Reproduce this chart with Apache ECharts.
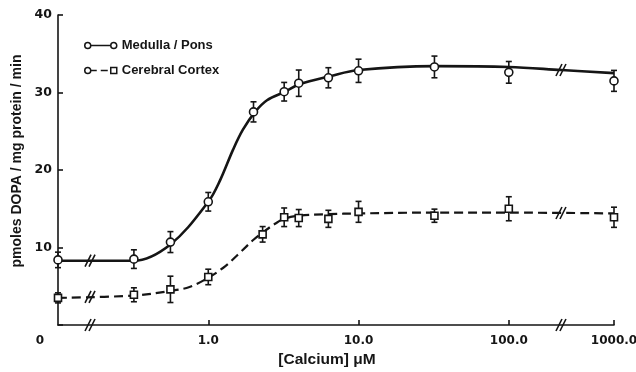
<!DOCTYPE html>
<html>
<head>
<meta charset="utf-8">
<script src="https://cdn.jsdelivr.net/npm/echarts@6/dist/echarts.min.js"></script>
<style>html,body{margin:0;padding:0;background:#fff;}#c{width:636px;height:372px;}</style>
</head>
<body>
<div id="c"></div>
<script>
// ---- data (concentrations in µM, activity in pmoles DOPA/mg protein/min) ----
const tickConc = [0, 1, 10, 100, 1000];
const tickLabels = ['0', '1.0', '10.0', '100.0', '1000.0'];
const yTicks = [0, 10, 20, 30, 40];

const medullaConc = [0, 0.32, 0.56, 1, 2, 3.2, 4, 6.3, 10, 32, 100, 1000];
const medullaMean = [8.4, 8.5, 10.7, 15.9, 27.5, 30.1, 31.2, 31.9, 32.8, 33.3, 32.6, 31.5];
const medullaErr  = [1.0, 1.2, 1.35, 1.2, 1.3, 1.2, 1.7, 1.3, 1.5, 1.4, 1.4, 1.35];

const cortexConc = [0, 0.32, 0.56, 1, 2.3, 3.2, 4, 6.3, 10, 32, 100, 1000];
const cortexMean = [3.5, 3.9, 4.6, 6.2, 11.7, 13.9, 13.8, 13.7, 14.6, 14.1, 15.0, 13.9];
const cortexErr  = [0.65, 0.9, 1.7, 1.0, 1.0, 1.2, 1.1, 1.1, 1.35, 0.85, 1.55, 1.3];

// fitted curves
const medullaFitConc = [0, 0.32, 0.56, 1, 1.2, 1.46, 1.7, 2.05, 2.46, 3.24, 4.07, 6.45, 10, 32, 100, 316, 1000];
const medullaFit     = [8.3, 8.3, 10.4, 15.9, 18.7, 22.6, 25.2, 27.5, 29.0, 30.1, 31.1, 32.1, 32.9, 33.4, 33.3, 32.9, 32.5];
const cortexFitConc  = [0, 0.32, 0.56, 0.75, 1, 1.3, 1.6, 2, 2.4, 2.8, 3.2, 4, 6.3, 10, 32, 100, 1000];
const cortexFit      = [3.5, 3.8, 4.4, 4.9, 6.1, 7.6, 9.2, 11.0, 12.2, 13.1, 13.7, 14.1, 14.3, 14.4, 14.5, 14.5, 14.4];

const seriesNames = ['Medulla / Pons', 'Cerebral Cortex'];

// ---- broken log scale: 0 drawn one decade below 1, 100->1000 compressed ----
function tx(c) {
  if (c === 0) return -1;
  const l = Math.log10(c);
  return l <= 2 ? l : 2 + 0.7 * (l - 2);
}
const breakT = [-0.787, 2.347];

function interp(xs, ys, t) {
  for (let i = 0; i < xs.length - 1; i++) {
    const a = tx(xs[i]), b = tx(xs[i + 1]);
    if (t >= a && t <= b) return ys[i] + (ys[i + 1] - ys[i]) * (t - a) / (b - a);
  }
  return ys[ys.length - 1];
}

const INK = '#151515';
const FONT = '"Liberation Sans", Arial, sans-serif';
const NUMFONT = '"DejaVu Sans", sans-serif';

const pairs = (xs, ys) => xs.map((c, i) => [tx(c), ys[i]]);
const errData = (xs, ys, es) => xs.map((c, i) => [tx(c), ys[i], es[i]]);

function errRender(params, api) {
  const x = api.value(0), y = api.value(1), e = api.value(2);
  const top = api.coord([x, y + e]);
  const bot = api.coord([x, y - e]);
  const w = 3;
  const st = { stroke: INK, lineWidth: 1.6 };
  return {
    type: 'group',
    children: [
      { type: 'line', shape: { x1: top[0], y1: top[1], x2: bot[0], y2: bot[1] }, style: st },
      { type: 'line', shape: { x1: top[0] - w, y1: top[1], x2: top[0] + w, y2: top[1] }, style: st },
      { type: 'line', shape: { x1: bot[0] - w, y1: bot[1], x2: bot[0] + w, y2: bot[1] }, style: st }
    ]
  };
}

// break marks on axis and on both curves
const breakData = [];
breakT.forEach(t => {
  breakData.push([t, 0]);
  breakData.push([t, interp(medullaFitConc, medullaFit, t)]);
  breakData.push([t, interp(cortexFitConc, cortexFit, t)]);
});
function breakRender(params, api) {
  const p = api.coord([api.value(0), api.value(1)]);
  const st = { stroke: INK, lineWidth: 1.6 };
  const mk = dx => ({ type: 'line', shape: { x1: p[0] + dx - 3, y1: p[1] + 6, x2: p[0] + dx + 3, y2: p[1] - 6 }, style: st });
  return { type: 'group', children: [mk(-2), mk(2)] };
}

const medIcon = 'path://M1,4a3,3 0 1,0 6,0a3,3 0 1,0 -6,0M7,4L27,4M27,4a3,3 0 1,0 6,0a3,3 0 1,0 -6,0';
const ctxIcon = 'path://M1,4a3,3 0 1,0 6,0a3,3 0 1,0 -6,0M7,4L13,4M17,4L24,4M27,1L33,1L33,7L27,7Z';

const chart = echarts.init(document.getElementById('c'), null, { renderer: 'canvas' });
chart.setOption({
  backgroundColor: '#fff',
  animation: false,
  textStyle: { fontFamily: FONT, color: INK },
  grid: { left: 58, right: 22, top: 15, bottom: 47, containLabel: false, outerBoundsMode: 'none' },
  legend: {
    orient: 'vertical', left: 84, top: 39, padding: 0,
    itemWidth: 32, itemHeight: 7, itemGap: 12, itemTextGap: 10,
    textStyle: { fontFamily: FONT, fontWeight: 'bold', fontSize: 13, color: INK },
    data: [
      { name: seriesNames[0], icon: medIcon, itemStyle: { color: '#fff', borderColor: INK, borderWidth: 1.5 } },
      { name: seriesNames[1], icon: ctxIcon, itemStyle: { color: '#fff', borderColor: INK, borderWidth: 1.5 } }
    ]
  },
  xAxis: {
    type: 'value', min: -1, max: tx(1000),
    name: '[Calcium] \u03bcM', nameLocation: 'middle', nameGap: 23,
    nameTextStyle: { fontFamily: FONT, fontWeight: 'bold', fontSize: 15.5, color: INK, padding: [0, 18, 0, 0] },
    axisLine: { onZero: false, lineStyle: { color: INK, width: 1.6 } },
    axisTick: { inside: true, length: 5, lineStyle: { color: INK, width: 1.6 }, customValues: tickConc.slice(1).map(tx) },
    axisLabel: {
      customValues: tickConc.map(tx), margin: 10,
      fontFamily: NUMFONT, fontWeight: 'bold', fontSize: 12, color: INK,
      formatter: v => {
        let best = 0;
        tickConc.forEach((c, i) => { if (Math.abs(tx(c) - v) < Math.abs(tx(tickConc[best]) - v)) best = i; });
        return best === 0 ? '{z|' + tickLabels[0] + '}' : tickLabels[best];
      },
      rich: { z: { fontFamily: NUMFONT, fontWeight: 'bold', fontSize: 12, color: INK, padding: [0, 36, 0, 0] } }
    },
    splitLine: { show: false }
  },
  yAxis: {
    type: 'value', min: yTicks[0], max: yTicks[yTicks.length - 1], interval: 10,
    name: 'pmoles DOPA / mg protein / min', nameLocation: 'middle', nameGap: 30, nameRotate: 90,
    nameTextStyle: { fontFamily: FONT, fontWeight: 'bold', fontSize: 14, color: INK, padding: [0, 0, 0, 18] },
    axisLine: { show: true, onZero: false, lineStyle: { color: INK, width: 1.6 } },
    axisTick: { show: true, inside: true, length: 5, lineStyle: { color: INK, width: 1.6 } },
    axisLabel: { margin: 6, fontFamily: NUMFONT, fontWeight: 'bold', fontSize: 12.5, color: INK,
      formatter: v => (v === 0 ? '' : String(v)) },
    splitLine: { show: false }
  },
  series: [
    { name: seriesNames[0], type: 'line', data: pairs(medullaFitConc, medullaFit), smooth: 0.35, showSymbol: false,
      lineStyle: { color: INK, width: 2.6 }, itemStyle: { color: INK }, z: 2 },
    { name: seriesNames[1], type: 'line', data: pairs(cortexFitConc, cortexFit), smooth: 0.35, showSymbol: false,
      lineStyle: { color: INK, width: 2.2, type: [9, 5] }, itemStyle: { color: INK }, z: 2 },
    { type: 'custom', renderItem: errRender, data: errData(medullaConc, medullaMean, medullaErr), z: 3, encode: { x: 0, y: 1 } },
    { type: 'custom', renderItem: errRender, data: errData(cortexConc, cortexMean, cortexErr), z: 3, encode: { x: 0, y: 1 } },
    { type: 'scatter', data: pairs(medullaConc, medullaMean), symbol: 'circle', symbolSize: 8,
      itemStyle: { color: '#fff', borderColor: INK, borderWidth: 1.6, opacity: 1 }, z: 4 },
    { type: 'scatter', data: pairs(cortexConc, cortexMean), symbol: 'rect', symbolSize: 7,
      itemStyle: { color: '#fff', borderColor: INK, borderWidth: 1.6, opacity: 1 }, z: 4 },
    { type: 'custom', renderItem: breakRender, data: breakData, z: 5, encode: { x: 0, y: 1 } }
  ]
});
</script>
</body>
</html>
